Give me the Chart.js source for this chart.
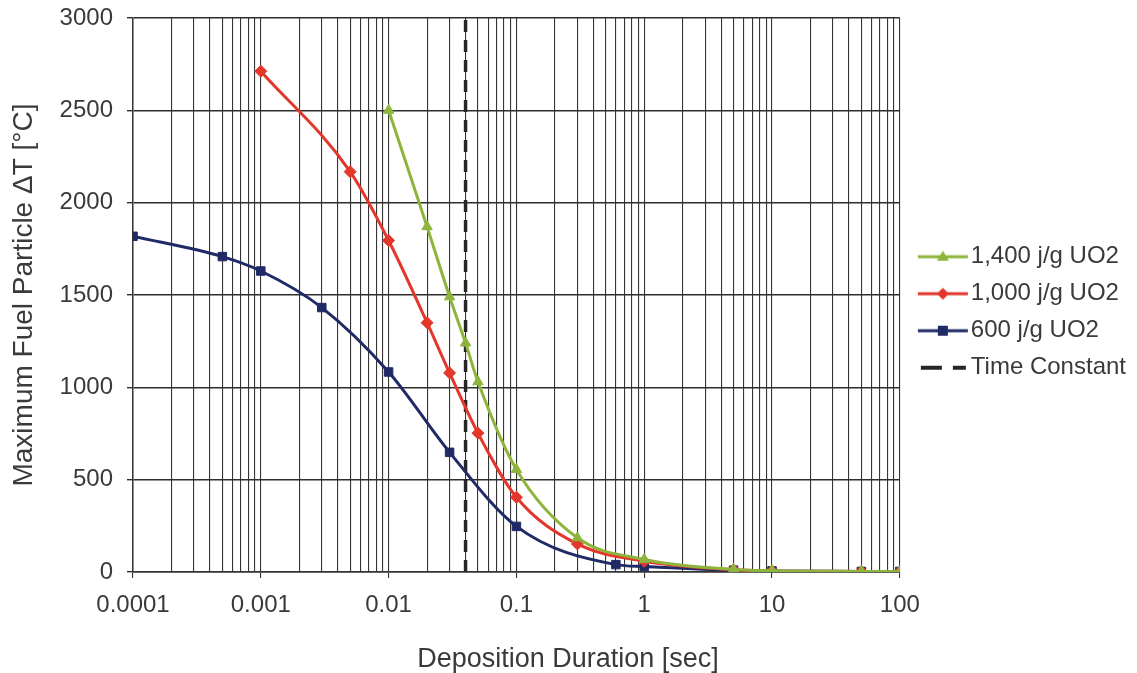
<!DOCTYPE html>
<html>
<head>
<meta charset="utf-8">
<script src="https://cdn.jsdelivr.net/npm/chart.js@4/dist/chart.umd.min.js"></script>
<style>
  html, body { margin: 0; padding: 0; background: #ffffff; }
  #wrap { position: relative; width: 1137px; height: 673px; }
</style>
</head>
<body>
<div id="wrap"><canvas id="c" width="1137" height="673"></canvas></div>
<script>
// ---- Data ----
const majorTicks = [0.0001, 0.001, 0.01, 0.1, 1, 10, 100];
const majorTickLabels = ['0.0001', '0.001', '0.01', '0.1', '1', '10', '100'];
const minorMultipliers = [2, 3, 4, 5, 6, 7, 8, 9];
const yTicks = [0, 500, 1000, 1500, 2000, 2500, 3000];

const seriesNames = ['1,400 j/g UO2', '1,000 j/g UO2', '600 j/g UO2', 'Time Constant'];

const greenX = [0.01, 0.02, 0.03, 0.04, 0.05, 0.1, 0.3, 1, 5, 10, 50, 100];
const greenY = [2500, 1870, 1490, 1240, 1030, 555, 185, 68, 14, 7, 3, 2];

const redX = [0.001, 0.005, 0.01, 0.02, 0.03, 0.05, 0.1, 0.3, 1, 5, 10, 50, 100];
const redY = [2712, 2168, 1795, 1350, 1078, 752, 405, 152, 58, 12, 6, 3, 2];

const blueX = [0.0001, 0.0005, 0.001, 0.003, 0.01, 0.03, 0.1, 0.6, 1, 5, 10, 50, 100];
const blueY = [1818, 1708, 1630, 1432, 1083, 648, 247, 40, 30, 10, 6, 3, 3];

const timeConstantX = [0.04, 0.04];
const timeConstantY = [0, 3000];

// ---- Build chart ----
const pts = (xs, ys) => xs.map((x, i) => ({ x: x, y: ys[i] }));
const allXTicks = [];
majorTicks.forEach((m, i) => {
  allXTicks.push(m);
  if (i < majorTicks.length - 1) minorMultipliers.forEach(k => allXTicks.push(+(m * k).toPrecision(6)));
});

const GREEN = '#8db53c', RED = '#e4372c', BLUE = '#1f2a66', DARK = '#262626';
const BOX_W = 46;      // legend box width used by Chart.js for spacing
const CANVAS_W = 70;   // icon canvas (drawn centred on the box)

function legendIcon(color, style, dashed) {
  const c = document.createElement('canvas');
  c.width = CANVAS_W; c.height = 16;
  const g = c.getContext('2d');
  g.strokeStyle = color; g.fillStyle = color;
  g.lineWidth = dashed ? 4 : 3;
  const x0 = 17, x1 = 67;
  g.beginPath();
  if (dashed) {
    g.moveTo(x0 + 3, 8); g.lineTo(x0 + 24, 8); g.moveTo(x0 + 35, 8); g.lineTo(x1 - 2, 8);
  } else {
    g.moveTo(x0, 8); g.lineTo(x1, 8);
  }
  g.stroke();
  const cx = (x0 + x1) / 2;
  if (style === 'triangle') {
    g.beginPath(); g.moveTo(cx, 2); g.lineTo(cx + 6, 12); g.lineTo(cx - 6, 12); g.closePath(); g.fill();
  } else if (style === 'rectRot') {
    g.beginPath(); g.moveTo(cx, 2); g.lineTo(cx + 6, 8); g.lineTo(cx, 14); g.lineTo(cx - 6, 8); g.closePath(); g.fill();
  } else if (style === 'rect') {
    g.fillRect(cx - 5, 3, 10, 10);
  }
  return c;
}
const icons = [legendIcon(GREEN, 'triangle'), legendIcon(RED, 'rectRot'), legendIcon(BLUE, 'rect'), legendIcon(DARK, null, true)];

const lineDs = (label, data, color, ps, r) => ({
  label: label, data: data, borderColor: color, backgroundColor: color,
  borderWidth: 3, pointStyle: ps, pointRadius: r, pointHoverRadius: r,
  pointBorderWidth: 1, cubicInterpolationMode: 'monotone', fill: false
});

const FONT = "'Liberation Sans', Arial, sans-serif";
const TXT = '#3a3a3a';

new Chart(document.getElementById('c'), {
  type: 'line',
  data: {
    datasets: [
      lineDs(seriesNames[0], pts(greenX, greenY), GREEN, 'triangle', 6),
      lineDs(seriesNames[1], pts(redX, redY), RED, 'rectRot', 6),
      lineDs(seriesNames[2], pts(blueX, blueY), BLUE, 'rect', 6),
      {
        label: seriesNames[3], data: pts(timeConstantX, timeConstantY),
        borderColor: DARK, backgroundColor: DARK, borderWidth: 3.5,
        borderDash: [12, 8], pointRadius: 0, fill: false
      }
    ]
  },
  options: {
    responsive: false,
    animation: false,
    layout: { padding: { left: 0, right: 1, top: 18, bottom: 0 } },
    scales: {
      x: {
        type: 'logarithmic', min: 0.0001, max: 100,
        afterBuildTicks: (s) => { s.ticks = allXTicks.map(v => ({ value: v })); },
        afterFit: (s) => { s.height = 46; },
        ticks: {
          autoSkip: false, maxRotation: 0, padding: 13,
          color: TXT, font: { family: FONT, size: 24 },
          callback: (v) => { const i = majorTicks.indexOf(v); return i >= 0 ? majorTickLabels[i] : ''; }
        },
        grid: {
          color: '#363636', lineWidth: 1.1, tickLength: 6,
          tickColor: (ctx) => (majorTicks.indexOf(ctx.tick && ctx.tick.value) >= 0 ? '#363636' : 'rgba(0,0,0,0)')
        },
        border: { color: '#363636', width: 1.5 }
      },
      y: {
        type: 'linear', min: 0, max: 3000,
        afterBuildTicks: (s) => { s.ticks = yTicks.map(v => ({ value: v })); },
        afterFit: (s) => { s.width = 133; s.paddingTop = 0; s.paddingBottom = 0; },
        ticks: { padding: 14, color: TXT, font: { family: FONT, size: 24 }, callback: (v) => String(v) },
        grid: { color: '#2e2e2e', lineWidth: 1.4, tickLength: 6 },
        border: { color: '#363636', width: 1.5 },
        title: {
          display: true, text: 'Maximum Fuel Particle ΔT [°C]',
          color: TXT, font: { family: FONT, size: 28 }, padding: { top: 7, bottom: 0 }
        }
      }
    },
    plugins: {
      legend: {
        position: 'right', align: 'center', fullSize: false,
        title: { display: true, text: ' ', font: { size: 12 }, padding: { top: 0, bottom: 20 } },
        labels: {
          color: TXT, font: { family: FONT, size: 24 },
          usePointStyle: true, pointStyleWidth: BOX_W, boxHeight: 16, padding: 13,
          generateLabels: (chart) => chart.data.datasets.map((d, i) => ({
            text: d.label, pointStyle: icons[i], datasetIndex: i,
            fillStyle: d.borderColor, strokeStyle: d.borderColor, lineWidth: 0, hidden: false, fontColor: TXT
          }))
        }
      },
      title: {
        display: true, position: 'bottom', text: 'Deposition Duration [sec]',
        color: TXT, font: { family: FONT, size: 27, weight: 'normal', lineHeight: 1.0 }, padding: { top: 28, bottom: 0 }
      },
      tooltip: { enabled: false }
    }
  }
});
</script>
</body>
</html>
